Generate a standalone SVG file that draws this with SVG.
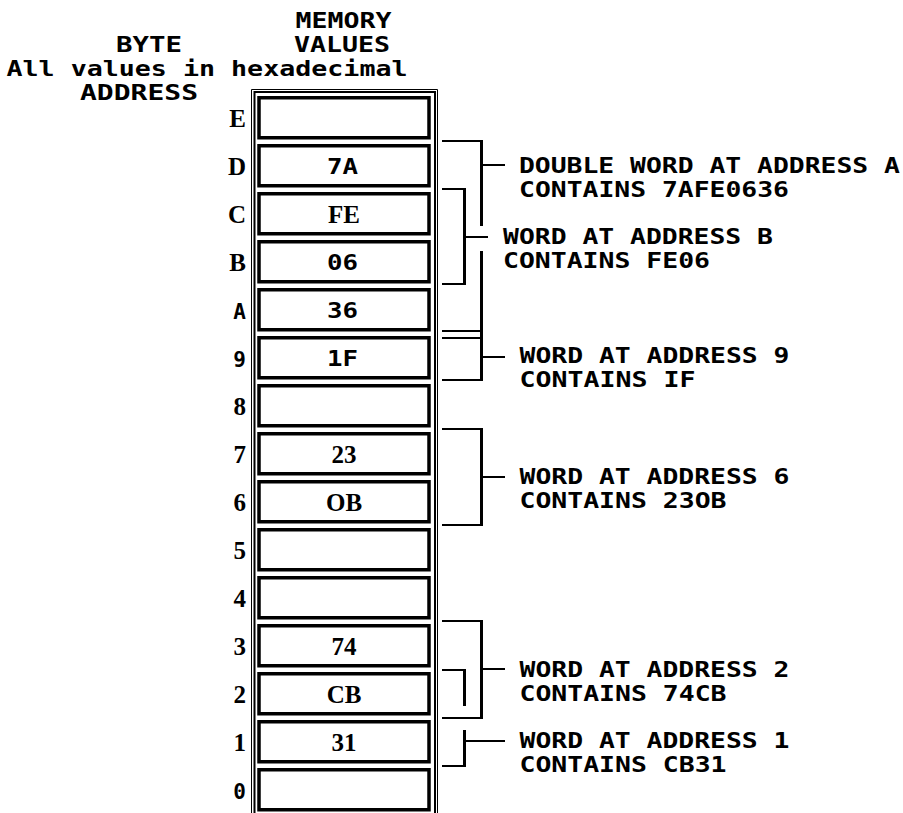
<svg xmlns="http://www.w3.org/2000/svg" width="903" height="813" viewBox="0 0 903 813">
<style>
.t{font-family:"DejaVu Sans Mono","Liberation Mono",monospace;font-weight:bold;font-size:21px;fill:#000}
.s{font-family:"Liberation Serif","DejaVu Serif",serif;font-weight:bold;font-size:25px;fill:#000}
.cell{fill:#fff;stroke:#000;stroke-width:3.5}
.h{stroke:#000;stroke-width:2;fill:none}
.v{stroke:#000;stroke-width:3;fill:none}
.addr{text-anchor:end}
.val{text-anchor:middle}
</style>
<rect width="903" height="813" fill="#fff"/>
<g id="header">
<text class="t" x="295.5" y="28" textLength="96" lengthAdjust="spacingAndGlyphs">MEMORY</text>
<text class="t" x="294" y="52" textLength="96" lengthAdjust="spacingAndGlyphs">VALUES</text>
<text class="t" x="116" y="52" textLength="66" lengthAdjust="spacingAndGlyphs">BYTE</text>
<text class="t" x="6.5" y="76" textLength="401" lengthAdjust="spacingAndGlyphs">All values in hexadecimal</text>
<text class="t" x="80" y="100" textLength="118" lengthAdjust="spacingAndGlyphs">ADDRESS</text>
</g>
<g id="memory-box">
<path d="M251.5,813 V89.5 H437.5 V813" fill="none" stroke="#000" stroke-width="1"/>
<path class="h" d="M254.5,813 V92 H435 V813"/>
</g>
<g id="cell-E"><rect class="cell" x="259" y="97.75" width="170" height="40"/><text class="s addr" x="246" y="127">E</text></g>
<g id="cell-D"><rect class="cell" x="259" y="145.75" width="170" height="40"/><text class="s addr" x="246" y="175">D</text><text class="t" x="327" y="174" textLength="31" lengthAdjust="spacingAndGlyphs">7A</text></g>
<g id="cell-C"><rect class="cell" x="259" y="193.75" width="170" height="40"/><text class="s addr" x="246" y="223">C</text><text class="s val" x="344" y="223">FE</text></g>
<g id="cell-B"><rect class="cell" x="259" y="241.75" width="170" height="40"/><text class="s addr" x="246" y="271">B</text><text class="t" x="327" y="270" textLength="31" lengthAdjust="spacingAndGlyphs">06</text></g>
<g id="cell-A"><rect class="cell" x="259" y="289.75" width="170" height="40"/><text class="t addr" x="246" y="319">A</text><text class="t" x="327" y="318" textLength="31" lengthAdjust="spacingAndGlyphs">36</text></g>
<g id="cell-9"><rect class="cell" x="259" y="337.75" width="170" height="40"/><text class="t addr" x="246" y="367">9</text><text class="t" x="327" y="366" textLength="31" lengthAdjust="spacingAndGlyphs">1F</text></g>
<g id="cell-8"><rect class="cell" x="259" y="385.75" width="170" height="40"/><text class="s addr" x="246" y="415">8</text></g>
<g id="cell-7"><rect class="cell" x="259" y="433.75" width="170" height="40"/><text class="s addr" x="246" y="463">7</text><text class="s val" x="344" y="463">23</text></g>
<g id="cell-6"><rect class="cell" x="259" y="481.75" width="170" height="40"/><text class="s addr" x="246" y="511">6</text><text class="s val" x="344" y="511">OB</text></g>
<g id="cell-5"><rect class="cell" x="259" y="529.75" width="170" height="40"/><text class="s addr" x="246" y="559">5</text></g>
<g id="cell-4"><rect class="cell" x="259" y="577.75" width="170" height="40"/><text class="s addr" x="246" y="607">4</text></g>
<g id="cell-3"><rect class="cell" x="259" y="625.75" width="170" height="40"/><text class="s addr" x="246" y="655">3</text><text class="s val" x="344" y="655">74</text></g>
<g id="cell-2"><rect class="cell" x="259" y="673.75" width="170" height="40"/><text class="s addr" x="246" y="703">2</text><text class="s val" x="344" y="703">CB</text></g>
<g id="cell-1"><rect class="cell" x="259" y="721.75" width="170" height="40"/><text class="s addr" x="246" y="751">1</text><text class="s val" x="344" y="751">31</text></g>
<g id="cell-0"><rect class="cell" x="259" y="769.75" width="170" height="40"/><text class="t addr" x="246" y="799">0</text></g>
<g id="connectors">
<path class="h" d="M442,141 H483 M442,331 H483 M442,338 H483 M442,380 H483 M483,165 H505 M483,357 H505"/>
<path class="v" d="M481.5,140 V226 M481.5,251 V381"/>
<path class="h" d="M442,189 H466 M442,284 H466 M466,237 H488"/>
<path class="v" d="M464.5,188 V285"/>
<path class="h" d="M442,429 H483 M442,525 H483 M483,477 H505"/>
<path class="v" d="M481.5,428 V526"/>
<path class="h" d="M442,621 H483 M442,718 H483 M483,669 H505 M442,670 H466"/>
<path class="v" d="M481.5,620 V719 M464.5,669 V706"/>
<path class="h" d="M442,766 H466 M466,741 H505"/>
<path class="v" d="M464.5,730 V767"/>
</g>
<g id="label-dword-A">
<text class="t" x="519" y="173" textLength="381" lengthAdjust="spacingAndGlyphs">DOUBLE WORD AT ADDRESS A</text>
<text class="t" x="519" y="197" textLength="270" lengthAdjust="spacingAndGlyphs">CONTAINS 7AFE0636</text>
</g>
<g id="label-word-B">
<text class="t" x="503" y="244" textLength="270" lengthAdjust="spacingAndGlyphs">WORD AT ADDRESS B</text>
<text class="t" x="503" y="268" textLength="207" lengthAdjust="spacingAndGlyphs">CONTAINS FE06</text>
</g>
<g id="label-word-9">
<text class="t" x="519.5" y="363" textLength="270" lengthAdjust="spacingAndGlyphs">WORD AT ADDRESS 9</text>
<text class="t" x="519.5" y="387" textLength="176" lengthAdjust="spacingAndGlyphs">CONTAINS IF</text>
</g>
<g id="label-word-6">
<text class="t" x="519.5" y="484" textLength="270" lengthAdjust="spacingAndGlyphs">WORD AT ADDRESS 6</text>
<text class="t" x="519.5" y="508" textLength="207" lengthAdjust="spacingAndGlyphs">CONTAINS 23OB</text>
</g>
<g id="label-word-2">
<text class="t" x="519.5" y="677" textLength="270" lengthAdjust="spacingAndGlyphs">WORD AT ADDRESS 2</text>
<text class="t" x="519.5" y="701" textLength="207" lengthAdjust="spacingAndGlyphs">CONTAINS 74CB</text>
</g>
<g id="label-word-1">
<text class="t" x="519.5" y="748" textLength="270" lengthAdjust="spacingAndGlyphs">WORD AT ADDRESS 1</text>
<text class="t" x="519.5" y="772" textLength="207" lengthAdjust="spacingAndGlyphs">CONTAINS CB31</text>
</g>
</svg>
